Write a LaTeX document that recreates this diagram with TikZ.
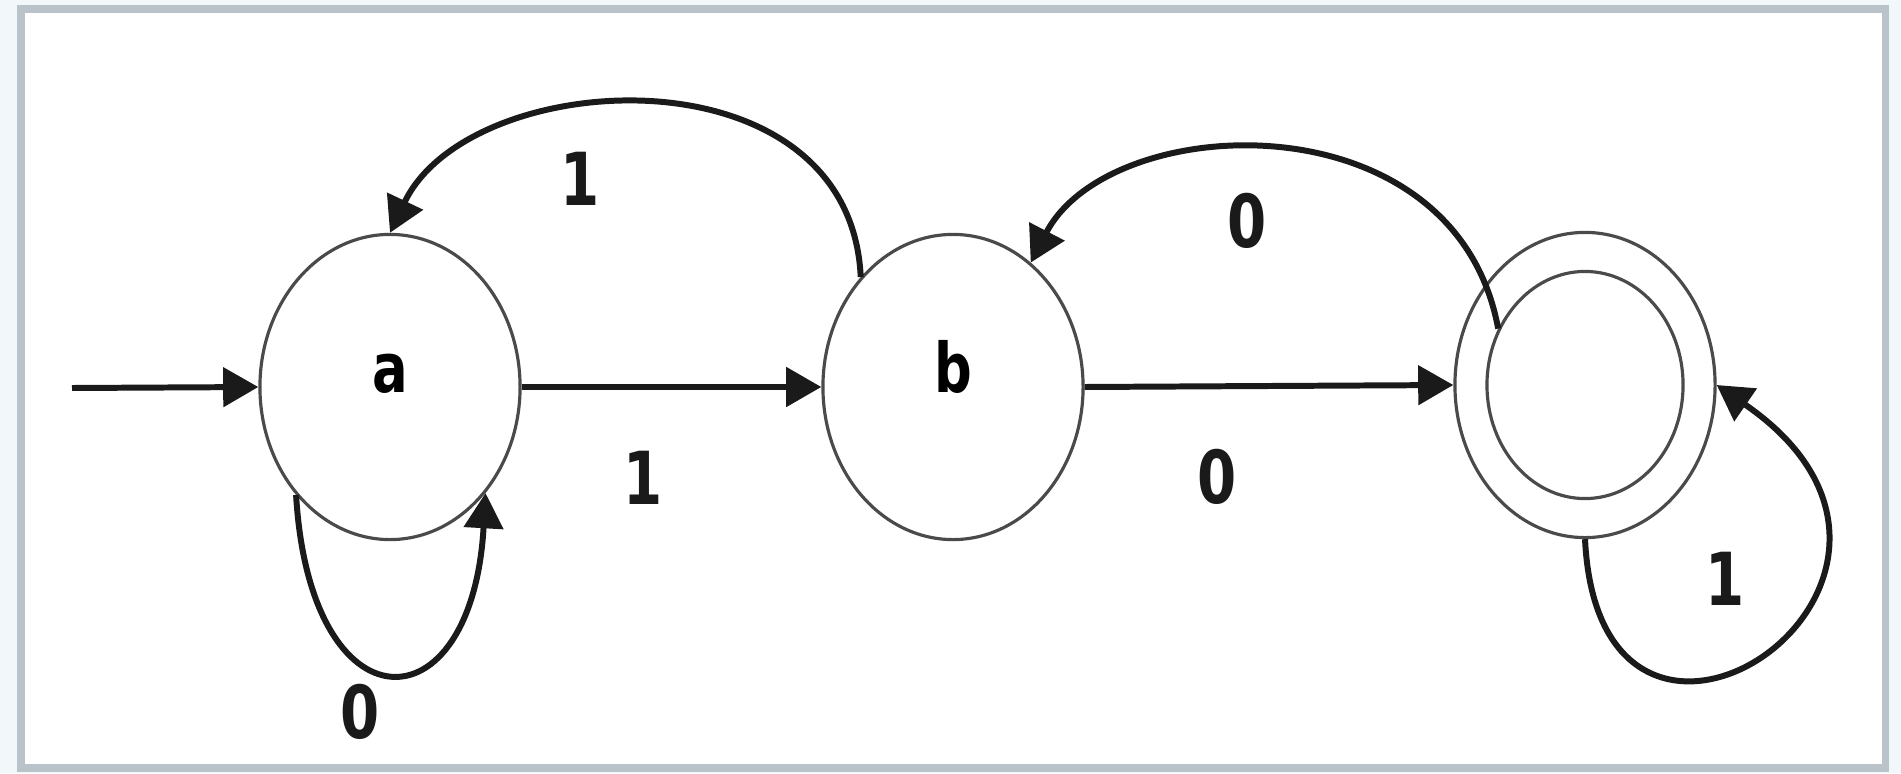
\documentclass[tikz,border=0pt]{standalone}
\usepackage{fontspec}
\setsansfont{DejaVu Sans}
\usetikzlibrary{shapes.geometric,arrows.meta}
\definecolor{framecol}{HTML}{B9C3C9}
\definecolor{outcol}{HTML}{F2F7FA}
\definecolor{ringcol}{HTML}{4A4A4A}
\definecolor{edgecol}{HTML}{1A1A1A}
\newcommand{\stxt}[1]{\scalebox{1}[1.3]{\sffamily\bfseries #1}}
\begin{document}
\begin{tikzpicture}[x=0.01cm,y=-0.01cm,
  statenode/.style={ellipse, draw=ringcol, line width=0.9pt, minimum width=2.6cm, minimum height=3.05cm, inner sep=0pt, font=\fontsize{15}{18}\selectfont, text height=16pt, text depth=12.6pt},
  innerring/.style={ellipse, draw=ringcol, line width=0.9pt, minimum width=1.96cm, minimum height=2.27cm, inner sep=0pt},
  trans/.style={draw=edgecol, line width=1.7pt, -{Triangle[length=10pt,width=11pt]}},
  lbl/.style={font=\fontsize{16}{19}\selectfont, inner sep=0pt, text=edgecol}]
\useasboundingbox (0,0) rectangle (1901,773);
\fill[outcol] (0,0) rectangle (1901,773);
\draw[framecol, line width=2pt, fill=white] (21,9) rectangle (1885,768);

\node[statenode] (a) at (390,387) {\stxt{a}};
\node[statenode] (b) at (953,387) {\stxt{b}};
\node[statenode] (f) at (1585,385) {};
\node[innerring] (fin) at (f.center) {};
\coordinate (start) at (72,388);

\draw[trans] (start) -- (a.west);
\draw[trans] (a.east) -- (b.west);
\draw[trans] (b.east) -- (f.west);
\draw[trans] (b.130) .. controls (850,45) and (470,65) .. (a.north);
\draw[trans] (fin.147) .. controls (1455,95) and (1110,110) .. (b.58);
\draw[trans] (a.229) .. controls (310,732) and (472,732) .. (a.312);
\draw[trans] (f.south) .. controls (1600,850) and (2000,580) .. (f.east);

\node[lbl] (l1) at (580,179) {\stxt{1}};
\node[lbl] (l2) at (1247,221) {\stxt{0}};
\node[lbl] (l3) at (643,478) {\stxt{1}};
\node[lbl] (l4) at (1217,477) {\stxt{0}};
\node[lbl] (l5) at (360,712) {\stxt{0}};
\node[lbl] (l6) at (1725,579) {\stxt{1}};
\end{tikzpicture}
\end{document}
